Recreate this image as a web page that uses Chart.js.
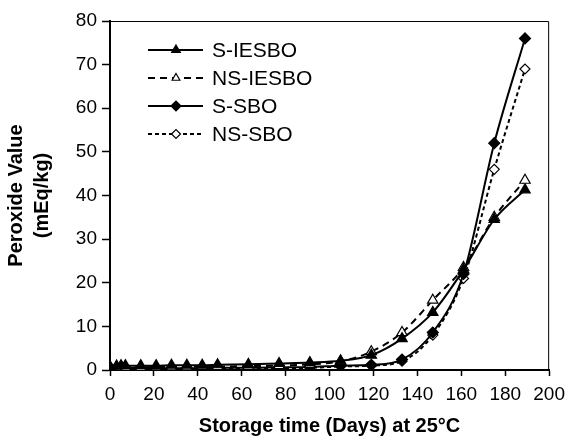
<!DOCTYPE html>
<html>
<head>
<meta charset="utf-8">
<script src="https://cdn.jsdelivr.net/npm/chart.js@4"></script>
<style>
  html, body { margin: 0; padding: 0; background: #fff; }
  #wrap { width: 572px; height: 438px; }
</style>
</head>
<body>
<div id="wrap"><canvas id="pvChart" width="572" height="438"></canvas></div>
<script>
// storage days
const days = [0, 3, 5, 7, 14, 21, 28, 35, 42, 49, 63, 77, 91, 105, 119, 133, 147, 161, 175, 189];

// peroxide values (mEq/kg)
const sIesbo  = [0.8, 0.9, 1.0, 1.0, 1.0, 1.0, 1.1, 1.1, 1.1, 1.2, 1.3, 1.5, 1.7, 2.1, 3.4, 7.2, 13.2, 23.0, 34.5, 41.3];
const nsIesbo = [0.5, 0.6, 0.6, 0.6, 0.6, 0.7, 0.7, 0.7, 0.8, 0.8, 0.9, 1.0, 1.3, 2.0, 4.2, 8.6, 16.0, 23.5, 35.0, 43.5];
const sSbo    = [0.6, 0.5, 0.5, 0.5, 0.4, 0.4, 0.4, 0.4, 0.4, 0.5, 0.5, 0.6, 0.7, 1.0, 1.2, 2.4, 8.6, 22.0, 52.0, 76.0];
const nsSbo   = [0.3, 0.3, 0.3, 0.3, 0.3, 0.3, 0.3, 0.3, 0.3, 0.3, 0.3, 0.4, 0.5, 0.8, 1.0, 2.0, 8.0, 21.0, 46.0, 69.0];

const seriesNames = ['S-IESBO', 'NS-IESBO', 'S-SBO', 'NS-SBO'];
const xTicks = [0, 20, 40, 60, 80, 100, 120, 140, 160, 180, 200];
const yTicks = [0, 10, 20, 30, 40, 50, 60, 70, 80];

const FONT = 'Liberation Sans, Arial, Helvetica, sans-serif';

const pts = (vals) => days.map((d, i) => ({ x: d, y: vals[i] }));

const styles = [
  { dash: [],     pointStyle: 'triangle', fill: '#000', radius: 6,   legendR: 5 },
  { dash: [7, 5], pointStyle: 'triangle', fill: '#fff', radius: 6,   legendR: 4.5 },
  { dash: [],     pointStyle: 'rectRot',  fill: '#000', radius: 5.5, legendR: 5 },
  { dash: [4, 3], pointStyle: 'rectRot',  fill: '#fff', radius: 5,   legendR: 4.5 }
];

const datasets = [sIesbo, nsIesbo, sSbo, nsSbo].map((vals, i) => ({
  label: seriesNames[i],
  data: pts(vals),
  borderColor: '#000',
  borderWidth: 2,
  borderDash: styles[i].dash,
  pointStyle: styles[i].pointStyle,
  pointRadius: styles[i].radius,
  pointBackgroundColor: styles[i].fill,
  pointBorderColor: '#000',
  pointBorderWidth: 1.2,
  cubicInterpolationMode: 'monotone',
  fill: false
}));

// frame on top and right + legend with line samples
const framePlugin = {
  id: 'frame',
  afterDraw(chart) {
    const { ctx, chartArea: a } = chart;
    ctx.save();
    ctx.strokeStyle = '#000';
    ctx.lineWidth = 1;
    ctx.beginPath();
    ctx.moveTo(a.left, a.top + 0.5);
    ctx.lineTo(a.right - 0.5, a.top + 0.5);
    ctx.lineTo(a.right - 0.5, a.bottom);
    ctx.stroke();

    // legend
    const x0 = 148, x1 = 203, xm = 176, tx = 212;
    const rows = [50, 78, 106, 134];
    ctx.font = '21px ' + FONT;
    ctx.textBaseline = 'middle';
    ctx.fillStyle = '#000';
    chart.data.datasets.forEach((ds, i) => {
      const y = rows[i];
      ctx.setLineDash(ds.borderDash);
      ctx.lineWidth = 2;
      ctx.beginPath();
      ctx.moveTo(x0, y);
      ctx.lineTo(x1, y);
      ctx.stroke();
      ctx.setLineDash([]);
      ctx.lineWidth = 1.2;
      ctx.fillStyle = ds.pointBackgroundColor;
      ctx.strokeStyle = '#000';
      Chart.helpers.drawPoint(ctx, {
        pointStyle: ds.pointStyle,
        radius: styles[i].legendR,
        borderWidth: 1.2
      }, xm, y);
      ctx.fillStyle = '#000';
      ctx.fillText(ds.label, tx, y + 1);
    });
    ctx.restore();
  }
};

new Chart(document.getElementById('pvChart'), {
  type: 'line',
  data: { datasets },
  options: {
    responsive: false,
    animation: false,
    layout: { padding: { top: 21, right: 20, left: 0, bottom: 0 } },
    plugins: { legend: { display: false }, tooltip: { enabled: false } },
    scales: {
      x: {
        type: 'linear',
        min: 0,
        max: 200,
        afterBuildTicks: (s) => { s.ticks = xTicks.map(v => ({ value: v })); },
        afterFit: (s) => { s.height = 68; },
        grid: { display: true, drawOnChartArea: false, drawTicks: true, tickLength: 6, tickColor: '#000', tickWidth: 1.5 },
        border: { display: true, color: '#000', width: 2 },
        ticks: { color: '#000', padding: 7, maxRotation: 0, font: { family: FONT, size: 19 } },
        title: {
          display: true,
          text: 'Storage time (Days) at 25°C',
          color: '#000',
          padding: { top: 0, bottom: 0 },
          font: { family: FONT, size: 20, weight: 'bold' }
        }
      },
      y: {
        min: 0,
        max: 80,
        afterBuildTicks: (s) => { s.ticks = yTicks.map(v => ({ value: v })); },
        afterFit: (s) => { s.width = 110; },
        grid: { display: true, drawOnChartArea: false, drawTicks: true, tickLength: 8, tickColor: '#000', tickWidth: 1.5 },
        border: { display: true, color: '#000', width: 2 },
        ticks: { color: '#000', padding: 5, font: { family: FONT, size: 19 } },
        title: {
          display: true,
          text: ['Peroxide Value', '(mEq/kg)'],
          color: '#000',
          padding: { top: 3, bottom: 0 },
          font: { family: FONT, size: 20, weight: 'bold', lineHeight: 1.3 }
        }
      }
    }
  },
  plugins: [framePlugin]
});
</script>
</body>
</html>
